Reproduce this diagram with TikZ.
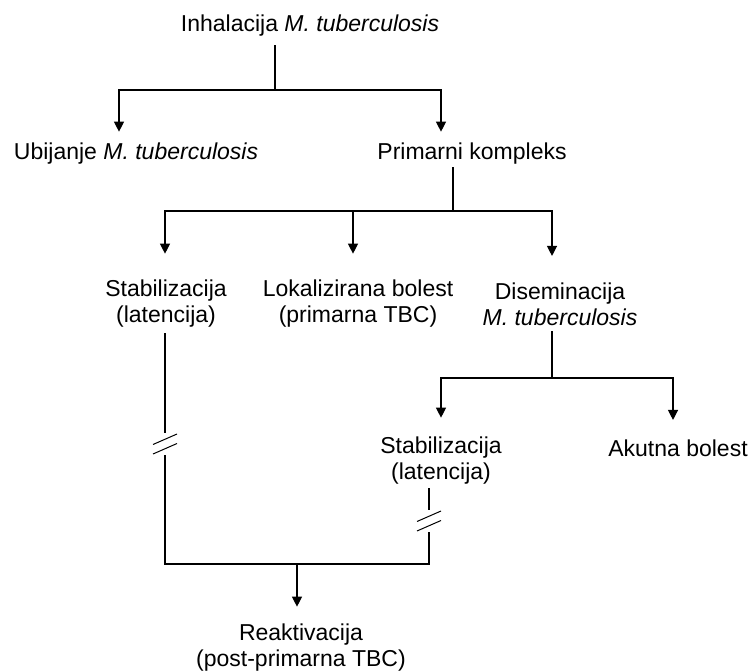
\documentclass[tikz,border=0pt]{standalone}
\usepackage{fontspec}
\setmainfont{Liberation Sans}
\usetikzlibrary{arrows.meta, positioning}

\begin{document}
\begin{tikzpicture}[x=0.5pt, y=-0.5pt, line width=0.6pt, >={Triangle[width=5pt,length=5pt]},
	every node/.style={inner sep=0pt, align=center, font=\fontsize{11.5}{13}\selectfont},
	brk/.pic={
		\fill[white] (-4,-11) rectangle (4,11);
		\draw[line width=0.5pt] (-12,0.5) -- (12,-10) (-12,10) -- (12,-0.5);}]
	
	\useasboundingbox (0,0) rectangle (753,672);
	
	\node (1) at (310,26) {Inhalacija \textit{M. tuberculosis}};
	\node (2) at (136,154) {Ubijanje \textit{M. tuberculosis}};
	\node (3) at (472,154) {Primarni kompleks};
	\node (4) at (166,304) {Stabilizacija\\(latencija)};
	\node (5) at (358,304) {Lokalizirana bolest\\(primarna TBC)};
	\node (6) at (560,304) {Diseminacija\\\textit{M. tuberculosis}};
	\node (7) at (441,461) {Stabilizacija\\(latencija)};
	\node (8) at (678,448) {Akutna bolest};
	\node (9) at (301,648) {Reaktivacija\\(post-primarna TBC)};
	
	\coordinate (f1) at (275,90);
	\coordinate (f2) at (453,211);
	\coordinate (f3) at (552,378);
	\coordinate (f4) at (297,564);
	
	\draw[shorten <=4pt] (1.south -| f1) -- (f1);
	\draw[->, shorten >=5.5pt] (f1) -| (2.north -| 119,0);
	\draw[->, shorten >=5.5pt] (f1) -| (3.north -| 441,0);
	
	\draw[shorten <=1pt] (3.south -| f2) -- (f2);
	\draw[->, shorten >=13pt] (f2) -| (4.north -| 165,0);
	\draw[->, shorten >=13pt] (f2) -| (5.north -| 353,0);
	\draw[->, shorten >=13pt] (f2) -| (6.north -| 552,0);
	
	\draw[shorten <=2.5pt] (6.south -| f3) -- (f3);
	\draw[->, shorten >=9.5pt] (f3) -| (7.north -| 441,0);
	\draw[->, shorten >=9.5pt] (f3) -| (8.north -| 673,0);
	
	\draw[shorten <=2.5pt, shorten >=1.5pt] (4.south -| 165,0) |- (f4) -| (7.south -| 429,0);
	\draw[->, shorten >=8.5pt] (f4) -- (9.north -| f4);
	
	\pic at (165,444) {brk};
	\pic at (429,521) {brk};
	
\end{tikzpicture}
\end{document}
